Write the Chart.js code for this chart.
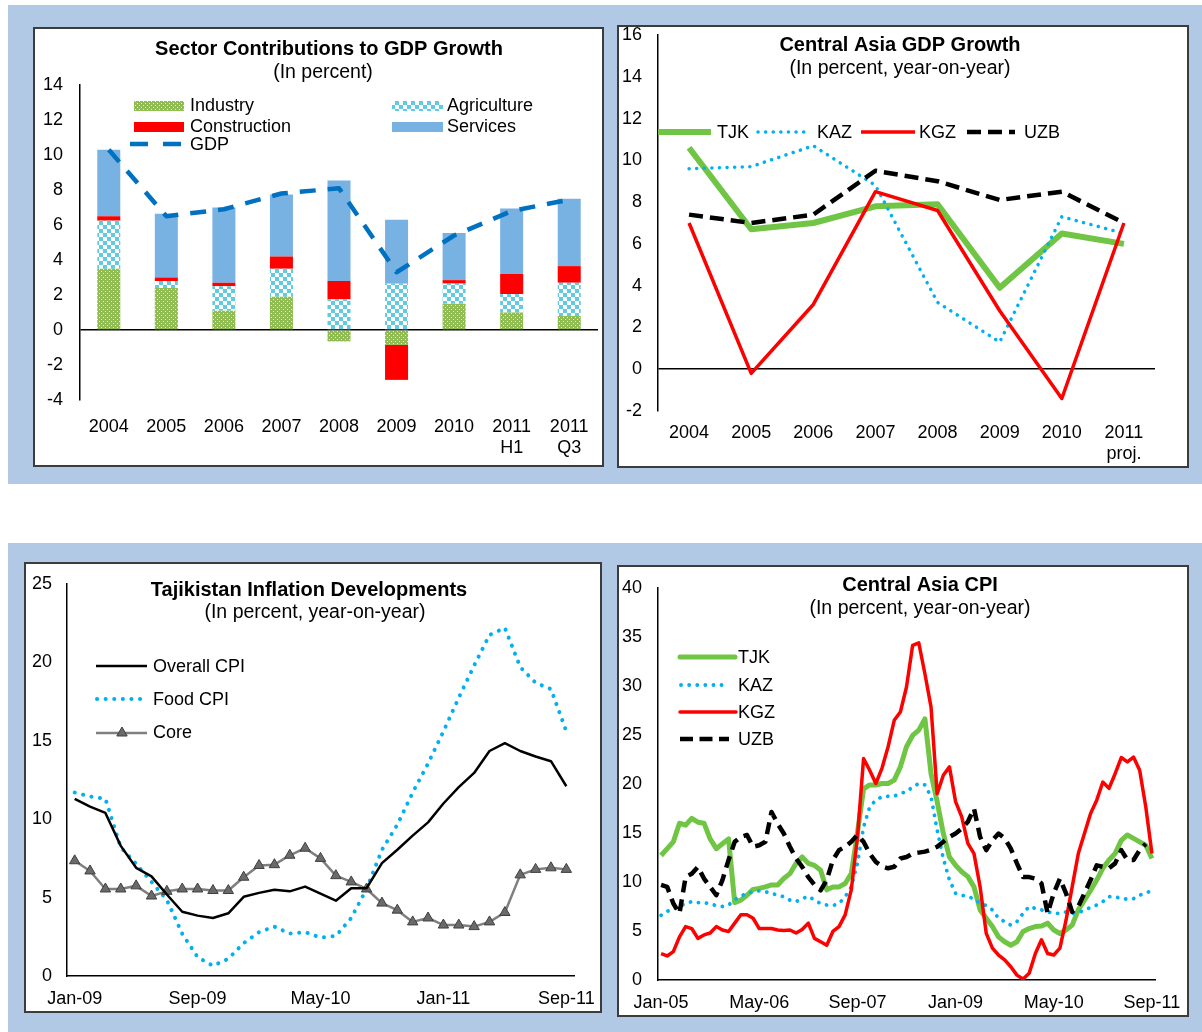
<!DOCTYPE html>
<html><head><meta charset="utf-8">
<script src="https://cdn.jsdelivr.net/npm/chart.js@4.4.1/dist/chart.umd.min.js"></script>
<style>
html,body{margin:0;padding:0;background:#fff;}
body{width:1202px;height:1032px;position:relative;overflow:hidden;}
.band{position:absolute;background:#b1c9e4;}
.panel{position:absolute;background:#fff;border:2px solid #3c3c3c;box-sizing:border-box;}
.panel canvas{position:absolute;left:0;top:0;}
</style></head><body>
<div class="band" style="left:8px;top:5px;width:1194px;height:479px"></div>
<div class="band" style="left:8px;top:543px;width:1194px;height:489px"></div>
<div class="panel" style="left:33px;top:27px;width:571px;height:440px"><canvas id="c1" width="567" height="436"></canvas></div>
<div class="panel" style="left:617px;top:25px;width:572px;height:443px"><canvas id="c2" width="568" height="439"></canvas></div>
<div class="panel" style="left:24px;top:562px;width:578px;height:451px"><canvas id="c3" width="574" height="447"></canvas></div>
<div class="panel" style="left:617px;top:565px;width:572px;height:452px"><canvas id="c4" width="568" height="448"></canvas></div>
<script>
// ---------- Panel 1: Sector contributions ----------
const gdpYears = ['2004','2005','2006','2007','2008','2009','2010',['2011','H1'],['2011','Q3']];
const industry = [3.5, 2.4, 1.1, 1.9, -0.65, -0.85, 1.5, 1.0, 0.8];
const agriculture = [2.75, 0.4, 1.4, 1.6, 1.75, 2.65, 1.15, 1.05, 1.9];
const construction = [0.25, 0.2, 0.2, 0.7, 1.05, -2.0, 0.2, 1.15, 0.95];
const services = [3.8, 3.65, 4.3, 3.55, 5.75, 3.65, 2.7, 3.75, 3.85];
const gdpTotal = [10.3, 6.5, 6.9, 7.8, 8.1, 3.3, 5.4, 6.8, 7.45];

// ---------- Panel 2: Central Asia GDP growth ----------
const caYears = ['2004','2005','2006','2007','2008','2009','2010',['2011','proj.']];
const tjkGdp = [10.6, 6.7, 7.0, 7.8, 7.9, 3.9, 6.5, 6.0];
const kazGdp = [9.6, 9.7, 10.7, 8.8, 3.2, 1.3, 7.3, 6.5];
const kgzGdp = [7.0, -0.2, 3.1, 8.5, 7.6, 2.8, -1.4, 7.0];
const uzbGdp = [7.4, 7.0, 7.4, 9.5, 9.0, 8.1, 8.5, 7.0];

// ---------- Panel 3: Tajikistan inflation ----------
const tjMonths = ['Jan-09','Feb-09','Mar-09','Apr-09','May-09','Jun-09','Jul-09','Aug-09','Sep-09','Oct-09','Nov-09','Dec-09',
  'Jan-10','Feb-10','Mar-10','Apr-10','May-10','Jun-10','Jul-10','Aug-10','Sep-10','Oct-10','Nov-10','Dec-10',
  'Jan-11','Feb-11','Mar-11','Apr-11','May-11','Jun-11','Jul-11','Aug-11','Sep-11'];
const overallCpi = [11.3, 10.8, 10.4, 8.3, 6.9, 6.35, 5.2, 4.1, 3.85, 3.7, 4.0, 5.05, 5.3, 5.5, 5.4, 5.7, 5.25, 4.8, 5.6, 5.6,
  7.2, 8.05, 8.95, 9.8, 11.0, 12.05, 12.95, 14.35, 14.85, 14.35, 14.0, 13.7, 12.1];
const foodCpi = [11.7, 11.45, 11.3, 8.2, 7.15, 6.0, 4.85, 2.7, 1.2, 0.65, 1.1, 2.1, 2.8, 3.15, 2.7, 2.8, 2.45, 2.55, 3.7, 5.55,
  8.05, 9.65, 11.7, 13.55, 15.6, 17.75, 19.8, 21.75, 22.2, 19.7, 18.7, 18.3, 15.6];
const coreCpi = [7.35, 6.7, 5.55, 5.55, 5.75, 5.1, 5.4, 5.55, 5.55, 5.45, 5.45, 6.3, 7.05, 7.1, 7.7, 8.15, 7.5, 6.4, 6.0, 5.55,
  4.65, 4.2, 3.45, 3.7, 3.25, 3.25, 3.15, 3.45, 4.05, 6.45, 6.8, 6.9, 6.8];

// ---------- Panel 4: Central Asia CPI ----------
const caMonths = [
  'Jan-05','Feb-05','Mar-05','Apr-05','May-05','Jun-05','Jul-05','Aug-05','Sep-05','Oct-05','Nov-05','Dec-05',
  'Jan-06','Feb-06','Mar-06','Apr-06','May-06','Jun-06','Jul-06','Aug-06','Sep-06','Oct-06','Nov-06','Dec-06',
  'Jan-07','Feb-07','Mar-07','Apr-07','May-07','Jun-07','Jul-07','Aug-07','Sep-07','Oct-07','Nov-07','Dec-07',
  'Jan-08','Feb-08','Mar-08','Apr-08','May-08','Jun-08','Jul-08','Aug-08','Sep-08','Oct-08','Nov-08','Dec-08',
  'Jan-09','Feb-09','Mar-09','Apr-09','May-09','Jun-09','Jul-09','Aug-09','Sep-09','Oct-09','Nov-09','Dec-09',
  'Jan-10','Feb-10','Mar-10','Apr-10','May-10','Jun-10','Jul-10','Aug-10','Sep-10','Oct-10','Nov-10','Dec-10',
  'Jan-11','Feb-11','Mar-11','Apr-11','May-11','Jun-11','Jul-11','Aug-11','Sep-11'];
const tjkCpi = [12.7, 13.4, 14.1, 16.0, 15.8, 16.5, 16.1, 16.0, 14.4, 13.4, 13.9, 14.4,
  7.9, 8.15, 8.65, 9.25, 9.35, 9.5, 9.7, 9.7, 10.35, 10.85, 11.9, 12.55,
  11.9, 11.7, 11.2, 9.2, 9.5, 9.5, 9.85, 10.85, 15.0, 19.5, 19.9, 19.9,
  20.05, 20.05, 20.4, 21.75, 23.8, 24.95, 25.5, 26.65, 21.05, 18.2, 14.95, 12.55,
  11.7, 11.05, 10.55, 9.5, 7.15, 6.3, 5.45, 4.4, 3.9, 3.55, 3.9, 4.95,
  5.25, 5.45, 5.5, 5.8, 5.1, 4.75, 5.1, 5.6, 7.15, 8.15, 9.15, 10.2,
  11.4, 12.25, 12.9, 14.25, 14.8, 14.45, 14.1, 13.75, 12.4];
const kazCpi = [6.6, 7.0, 7.3, 7.5, 7.8, 8.0, 7.9, 7.9, 7.75, 7.6, 7.5, 7.65,
  8.2, 8.55, 8.85, 9.0, 9.1, 9.0, 8.85, 8.65, 8.5, 8.15, 8.0, 8.3,
  8.55, 8.15, 7.8, 7.65, 7.6, 7.8, 8.5, 9.5, 11.9, 15.6, 17.65, 18.35,
  18.7, 18.75, 18.75, 19.05, 19.2, 19.7, 20.05, 19.9, 18.7, 15.3, 12.4, 10.2,
  8.85, 8.65, 8.5, 8.3, 7.8, 7.6, 7.15, 6.3, 5.95, 5.6, 5.95, 6.8,
  7.5, 7.3, 7.15, 6.95, 6.8, 6.8, 6.95, 6.8, 6.85, 7.15, 7.4, 7.65,
  8.0, 8.5, 8.5, 8.3, 8.25, 8.3, 8.65, 8.9, 9.1];
const kgzCpi = [2.7, 2.45, 2.9, 4.4, 5.45, 5.25, 4.25, 4.6, 4.8, 5.45, 5.1, 4.95,
  5.8, 6.65, 6.65, 6.3, 5.25, 5.25, 5.25, 5.1, 5.05, 5.1, 4.8, 5.15,
  5.8, 4.25, 3.9, 3.55, 4.95, 5.45, 6.65, 9.2, 14.5, 22.6, 21.4, 20.05,
  21.6, 23.8, 26.5, 27.35, 29.9, 34.15, 34.4, 31.25, 27.85, 19.0, 20.9, 21.75,
  18.2, 16.65, 13.95, 12.9, 9.5, 4.75, 3.25, 2.55, 2.05, 1.35, 0.5, 0.1,
  0.7, 2.7, 4.1, 2.7, 2.55, 3.25, 6.1, 9.5, 12.9, 14.95, 17.0, 18.35,
  20.2, 19.55, 21.05, 22.7, 22.25, 22.75, 21.4, 17.65, 12.9];
const uzbCpi = [9.7, 9.5, 7.8, 6.8, 10.5, 10.85, 11.55, 10.35, 9.5, 8.65, 10.2, 12.25,
  14.1, 14.6, 14.8, 13.6, 13.75, 14.1, 17.15, 15.95, 14.95, 13.6, 12.4, 11.55,
  10.5, 9.7, 9.15, 10.2, 12.25, 13.25, 13.6, 14.1, 14.8, 14.1, 12.9, 12.05,
  11.6, 11.4, 11.55, 12.4, 12.55, 12.9, 13.0, 13.1, 13.3, 13.6, 14.1, 14.6,
  14.95, 15.45, 16.15, 17.5, 14.6, 13.25, 14.25, 14.95, 14.45, 13.4, 11.9, 10.5,
  10.5, 10.35, 9.85, 6.8, 8.85, 10.35, 8.85, 6.95, 7.5, 8.85, 10.2, 11.7,
  11.55, 11.4, 11.9, 13.25, 12.25, 12.25, 13.25, 13.9, null];

// ---------- styling helpers ----------
const FONT = "'Liberation Sans', Arial, Helvetica, sans-serif";
Chart.defaults.font.family = FONT;
Chart.defaults.font.size = 18;
Chart.defaults.color = '#000';
Chart.defaults.animation = false;

const GREEN = '#70c545', CYAN = '#00b0f0', RED = '#ff0000', BLACK = '#000000';

function makePattern(size, draw) {
  const c = document.createElement('canvas');
  c.width = size; c.height = size;
  const x = c.getContext('2d');
  draw(x);
  return x.createPattern(c, 'repeat');
}
const industryPat = makePattern(4, x => {
  x.fillStyle = '#8fbd50'; x.fillRect(0, 0, 4, 4);
  x.fillStyle = '#e8f2dc'; x.fillRect(0, 0, 1, 1); x.fillRect(2, 2, 1, 1);
});
const agriPat = makePattern(8, x => {
  x.fillStyle = '#ffffff'; x.fillRect(0, 0, 8, 8);
  x.fillStyle = '#62cbe0'; x.fillRect(0, 0, 4, 4); x.fillRect(4, 4, 4, 4);
});
const SERVICES = '#78b2e3';

function yAxis(min, max, step, width, pad, zeroLine, stacked) {
  return {
    stacked: !!stacked, min, max,
    ticks: { stepSize: step, padding: pad, color: '#000', font: { size: 18 } },
    border: { display: true, color: '#000', width: 1.5 },
    grid: zeroLine
      ? { drawTicks: false, lineWidth: 1.5, color: c => (c.tick && c.tick.value === 0) ? '#000' : 'rgba(0,0,0,0)' }
      : { display: false, drawTicks: false },
    afterFit: s => { s.width = width; s.paddingTop = 0; s.paddingBottom = 0; }
  };
}
function xAxis(height, pad, borderOn, every, stacked) {
  const t = { padding: pad, color: '#000', font: { size: 18 }, maxRotation: 0, minRotation: 0, autoSkip: false };
  if (every) t.callback = function (v, i) { return i % every === 0 ? this.getLabelForValue(v) : ''; };
  return {
    stacked: !!stacked, offset: true,
    grid: { display: false, drawTicks: false },
    border: { display: !!borderOn, color: '#000', width: 1.5 },
    ticks: t,
    afterFit: s => { s.height = height; s.paddingLeft = 0; s.paddingRight = 0; }
  };
}
function txt(ctx, s, x, y, font, align) {
  ctx.font = font; ctx.fillStyle = '#000';
  ctx.textAlign = align || 'left'; ctx.textBaseline = 'middle';
  ctx.fillText(s, x, y);
}
function seg(ctx, x1, x2, y, color, w, dash, cap) {
  ctx.save(); ctx.strokeStyle = color; ctx.lineWidth = w; ctx.setLineDash(dash || []);
  ctx.lineCap = cap || 'butt'; ctx.beginPath(); ctx.moveTo(x1, y); ctx.lineTo(x2, y); ctx.stroke(); ctx.restore();
}
const TF = 'bold 20px ' + FONT, SF = '19.5px ' + FONT, LF = '18px ' + FONT;
function overlay(fn) { return { id: 'overlay', afterDraw(chart) { const ctx = chart.ctx; ctx.save(); fn(ctx); ctx.restore(); } }; }
const baseOpts = (padding, scales) => ({
  responsive: false, maintainAspectRatio: false, devicePixelRatio: 1, animation: false,
  layout: { padding },
  plugins: { legend: { display: false }, tooltip: { enabled: false }, title: { display: false } },
  scales
});
const lineDs = (label, data, color, width, dash, cap, order) => ({
  label, data, borderColor: color, backgroundColor: color, borderWidth: width, borderDash: dash || [],
  borderCapStyle: cap || 'butt', borderJoinStyle: 'round', pointRadius: 0, tension: 0, fill: false, order
});

// ---------- Chart 1 ----------
new Chart(document.getElementById('c1'), {
  type: 'bar',
  data: {
    labels: gdpYears,
    datasets: [
      { label: 'Industry', data: industry, backgroundColor: industryPat, stack: 's', barPercentage: 0.4, categoryPercentage: 1, borderWidth: 0 },
      { label: 'Agriculture', data: agriculture, backgroundColor: agriPat, stack: 's', barPercentage: 0.4, categoryPercentage: 1, borderWidth: 0 },
      { label: 'Construction', data: construction, backgroundColor: RED, stack: 's', barPercentage: 0.4, categoryPercentage: 1, borderWidth: 0 },
      { label: 'Services', data: services, backgroundColor: SERVICES, stack: 's', barPercentage: 0.4, categoryPercentage: 1, borderWidth: 0 },
      Object.assign(lineDs('GDP', gdpTotal, '#0070c0', 4.5, [16, 12], 'butt', -1), { type: 'line', stack: 'gdp' })
    ]
  },
  options: baseOpts({ left: 0, top: 56, right: 4, bottom: 0 }, {
    x: xAxis(65, 16, false, 0, true),
    y: yAxis(-4, 14, 2, 45, 17, true, true)
  }),
  plugins: [overlay(ctx => {
    txt(ctx, 'Sector Contributions to GDP Growth', 294, 20, TF, 'center');
    txt(ctx, '(In percent)', 288, 44, SF, 'center');
    ctx.fillStyle = industryPat; ctx.fillRect(99, 72, 50, 10);
    ctx.fillStyle = agriPat; ctx.fillRect(357, 72, 51, 10);
    ctx.fillStyle = RED; ctx.fillRect(99, 93, 50, 10);
    ctx.fillStyle = SERVICES; ctx.fillRect(357, 93, 51, 10);
    seg(ctx, 95, 146, 115, '#0070c0', 4.5, [18, 15]);
    txt(ctx, 'Industry', 155, 77, LF);
    txt(ctx, 'Agriculture', 412, 77, LF);
    txt(ctx, 'Construction', 155, 98, LF);
    txt(ctx, 'Services', 412, 98, LF);
    txt(ctx, 'GDP', 155, 116, LF);
  })]
});

// ---------- Chart 2 ----------
new Chart(document.getElementById('c2'), {
  type: 'line',
  data: {
    labels: caYears,
    datasets: [
      lineDs('TJK', tjkGdp, GREEN, 6, [], 'butt', 3),
      lineDs('KAZ', kazGdp, CYAN, 3.5, [0.1, 7.5], 'round', 2),
      lineDs('KGZ', kgzGdp, RED, 3.5, [], 'butt', 1),
      lineDs('UZB', uzbGdp, BLACK, 4.5, [14, 7], 'butt', 0)
    ]
  },
  options: baseOpts({ left: 0, top: 8, right: 32, bottom: 0 }, {
    x: xAxis(55, 11, false, 0),
    y: yAxis(-2, 16, 2, 39, 16, true)
  }),
  plugins: [overlay(ctx => {
    txt(ctx, 'Central Asia GDP Growth', 281, 18, TF, 'center');
    txt(ctx, '(In percent, year-on-year)', 281, 42, SF, 'center');
    seg(ctx, 39, 92, 105, GREEN, 6);
    txt(ctx, 'TJK', 98, 106, LF);
    seg(ctx, 139, 188, 105, CYAN, 3.5, [0.1, 7.5], 'round');
    txt(ctx, 'KAZ', 198, 106, LF);
    seg(ctx, 242, 296, 105, RED, 3.5);
    txt(ctx, 'KGZ', 300, 106, LF);
    seg(ctx, 348, 396, 105, BLACK, 4.5, [14, 7]);
    txt(ctx, 'UZB', 405, 106, LF);
  })]
});

// ---------- Chart 3 ----------
new Chart(document.getElementById('c3'), {
  type: 'line',
  data: {
    labels: tjMonths,
    datasets: [
      lineDs('Overall CPI', overallCpi, BLACK, 2.5, [], 'butt', 0),
      lineDs('Food CPI', foodCpi, CYAN, 4, [0.1, 8.5], 'round', 2),
      Object.assign(lineDs('Core', coreCpi, '#7f7f7f', 2.5, [], 'butt', 1),
        { pointRadius: 6, pointStyle: 'triangle', pointBackgroundColor: '#6a6a6a', pointBorderColor: '#3f3f3f', pointBorderWidth: 1 })
    ]
  },
  options: baseOpts({ left: 0, top: 20, right: 26, bottom: 0 }, {
    x: xAxis(35, 12, true, 8),
    y: yAxis(0, 25, 5, 41, 15, false)
  }),
  plugins: [overlay(ctx => {
    txt(ctx, 'Tajikistan Inflation Developments', 283, 26, TF, 'center');
    txt(ctx, '(In percent, year-on-year)', 289, 49, SF, 'center');
    seg(ctx, 70, 121, 102, BLACK, 2.5);
    txt(ctx, 'Overall CPI', 127, 103, LF);
    seg(ctx, 71, 121, 135, CYAN, 4, [0.1, 8.5], 'round');
    txt(ctx, 'Food CPI', 127, 136, LF);
    seg(ctx, 70, 121, 169, '#7f7f7f', 2.5);
    ctx.save();
    ctx.fillStyle = '#6a6a6a'; ctx.strokeStyle = '#3f3f3f'; ctx.lineWidth = 1;
    ctx.beginPath(); ctx.moveTo(96, 163); ctx.lineTo(101.2, 172); ctx.lineTo(90.8, 172); ctx.closePath();
    ctx.fill(); ctx.stroke(); ctx.restore();
    txt(ctx, 'Core', 127, 169, LF);
  })]
});

// ---------- Chart 4 ----------
new Chart(document.getElementById('c4'), {
  type: 'line',
  data: {
    labels: caMonths,
    datasets: [
      lineDs('TJK', tjkCpi, GREEN, 5, [], 'butt', 3),
      lineDs('KAZ', kazCpi, CYAN, 3.8, [0.1, 8], 'round', 2),
      lineDs('KGZ', kgzCpi, RED, 3.5, [], 'butt', 1),
      lineDs('UZB', uzbCpi, BLACK, 4.5, [12, 7], 'butt', 0)
    ]
  },
  options: baseOpts({ left: 0, top: 21, right: 32, bottom: 0 }, {
    x: xAxis(35, 12, true, 16),
    y: yAxis(0, 40, 5, 39, 16, false)
  }),
  plugins: [overlay(ctx => {
    txt(ctx, 'Central Asia CPI', 301, 18, TF, 'center');
    txt(ctx, '(In percent, year-on-year)', 301, 42, SF, 'center');
    seg(ctx, 61, 116, 90, GREEN, 5, [], 'round');
    txt(ctx, 'TJK', 119, 91, LF);
    seg(ctx, 62, 110, 118, CYAN, 3.8, [0.1, 8], 'round');
    txt(ctx, 'KAZ', 119, 119, LF);
    seg(ctx, 61, 117, 145, RED, 3.5, [], 'round');
    txt(ctx, 'KGZ', 119, 146, LF);
    seg(ctx, 61, 110, 172, BLACK, 4.5, [13, 6.5]);
    txt(ctx, 'UZB', 119, 173, LF);
  })]
});
</script>
</body></html>
